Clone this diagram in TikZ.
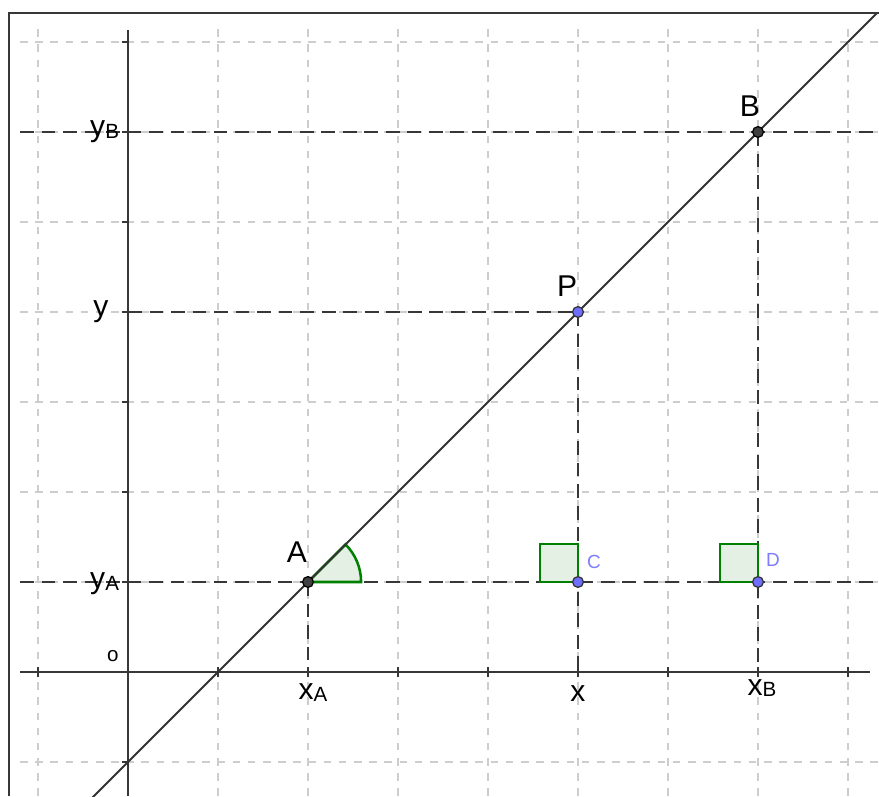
\documentclass[tikz,border=0pt]{standalone}
\usepackage{fontspec}
\setmainfont{Liberation Sans}
\newcommand{\subl}[1]{{\fontsize{6.5}{7}\selectfont\raisebox{-0.6pt}{#1}}}
\definecolor{gridgray}{RGB}{205,205,205}
\definecolor{axisgray}{RGB}{55,55,55}
\definecolor{anggreen}{RGB}{0,128,0}
\definecolor{angfill}{RGB}{228,240,228}
\definecolor{ptblue}{RGB}{110,110,255}
\definecolor{lblblue}{RGB}{125,125,255}
\tikzset{
  gridline/.style={gridgray, line width=0.6pt, dash pattern=on 2.4pt off 2.4pt},
  projline/.style={axisgray, line width=0.65pt, dash pattern=on 4.4pt off 2.4pt},
  axisline/.style={axisgray, line width=0.6pt},
  mainline/.style={black!80, line width=0.6pt},
  lbl/.style={font=\fontsize{9.5}{11}\selectfont, inner sep=0pt},
  smalllbl/.style={font=\fontsize{6}{7}\selectfont, inner sep=0pt, text=lblblue},
  blackpt/.style={circle, fill=black!75, draw=black, line width=0.4pt, inner sep=0pt, minimum size=0.12cm},
  bluept/.style={circle, fill=ptblue, draw=black!80, line width=0.4pt, inner sep=0pt, minimum size=0.12cm},
  anglemark/.style={draw=anggreen, fill=angfill, line width=0.8pt},
  rightmark/.style={draw=anggreen, fill=angfill, line width=0.45pt},
}
\begin{document}
\begin{tikzpicture}
\useasboundingbox (-1.4222,-1.3778) rectangle (8.3444,7.4667);
\fill[white] (-1.4222,-1.3778) rectangle (8.3444,7.4667);
\begin{scope}
\clip (-1.322,-1.3778) rectangle (8.3444,7.322);
% grid
\foreach \x in {-1,1,2,3,4,5,6,7,8}
  \draw[gridline] (\x,-1.3778) -- (\x,7.2);
\foreach \y in {-1,1,2,3,4,5,6,7}
  \draw[gridline] (-1.2,\y) -- (8.3444,\y);
% named points
\coordinate (O) at (0,0);
\coordinate (A) at (2,1);
\coordinate (P) at (5,4);
\coordinate (B) at (7,6);
\coordinate (C) at (5,1);
\coordinate (D) at (7,1);
\coordinate (xA) at (2,0);
\coordinate (xP) at (5,0);
\coordinate (xB) at (7,0);
\coordinate (yP) at (0,4);
\coordinate (LB) at (-1.2,6);
\coordinate (RB) at (8.3444,6);
\coordinate (LA) at (-1.2,1);
\coordinate (RA) at (8.3444,1);
\coordinate (L0) at (-0.4,-1.4);
\coordinate (L1) at (8.35,7.35);
\coordinate (XL) at (-1.2,0);
\coordinate (XR) at (8.24,0);
\coordinate (YB) at (0,-1.3778);
\coordinate (YT) at (0,7.13);
% axes
\draw[axisline] (XL) -- (XR);
\draw[axisline] (YB) -- (YT);
\foreach \x in {-1,1,2,3,4,5,6,7,8}
  \draw[axisline] (\x,-0.06) -- (\x,0.06);
\foreach \y in {-1,1,2,3,4,5,6,7}
  \draw[axisline] (-0.07,\y) -- (0,\y);
% projection lines
\draw[projline] (LB) -- (RB);
\draw[projline] (LA) -- (RA);
\draw[projline] (yP) -- (P);
\draw[projline] (A) -- (xA);
\draw[projline] (P) -- (xP);
\draw[projline] (B) -- (xB);
% angle and right angle marks
\filldraw[anglemark] (A) -- ++(0.59,0) arc[start angle=0, end angle=45, radius=0.59] -- cycle;
\filldraw[rightmark] (C) rectangle ++(-0.42,0.42);
\filldraw[rightmark] (D) rectangle ++(-0.42,0.42);
% main line
\draw[mainline] (L0) -- (L1);
\end{scope}
% frame
\draw[axisgray, line width=0.6pt] (-1.322,-1.3778) -- (-1.322,7.322) -- (8.3444,7.322);
% points
\node[blackpt] (pA) at (A) {};
\node[blackpt] (pB) at (B) {};
\node[bluept] (pP) at (P) {};
\node[bluept] (pC) at (C) {};
\node[bluept] (pD) at (D) {};
% labels
\node[lbl] (tA) at (1.878,1.333) {A};
\node[lbl] (tP) at (4.878,4.289) {P};
\node[lbl] (tB) at (6.911,6.289) {B};
\node[smalllbl] (tC) at (5.178,1.222) {C};
\node[smalllbl] (tD) at (7.167,1.244) {D};
\node[lbl] (tyB) at (-0.26,6.0) {y\subl{B}};
\node[lbl] (ty) at (-0.30,4.0) {y};
\node[lbl] (tyA) at (-0.26,0.98) {y\subl{A}};
\node[font=\fontsize{6.5}{7}\selectfont, inner sep=0pt] (tO) at (-0.167,0.18) {o};
\node[lbl] (txA) at (2.056,-0.233) {x\subl{A}};
\node[lbl] (tx) at (5.0,-0.244) {x};
\node[lbl] (txB) at (7.044,-0.178) {x\subl{B}};
\end{tikzpicture}
\end{document}
